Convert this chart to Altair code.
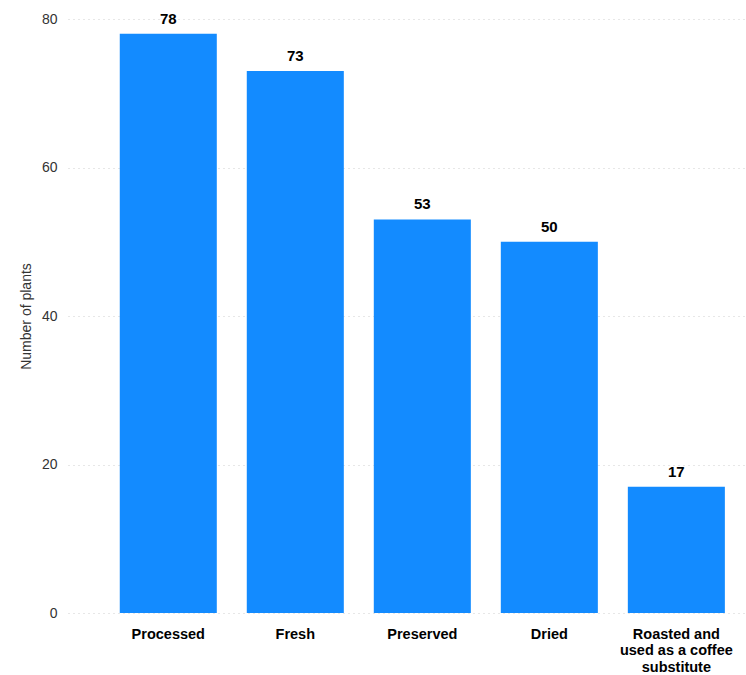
import altair as alt
import pandas as pd

# Ways the plants are used, and how many plants fall in each group
uses = ["Processed", "Fresh", "Preserved", "Dried", "Roasted and used as a coffee substitute"]
counts = [78, 73, 53, 50, 17]
y_ticks = [0, 20, 40, 60, 80]

df = pd.DataFrame({"use": uses, "plants": counts})

label_expr = (
    "datum.value == 'Roasted and used as a coffee substitute' "
    "? ['Roasted and', 'used as a coffee', 'substitute'] : datum.label"
)

x = alt.X(
    "use:N",
    sort=uses,
    title=None,
    scale=alt.Scale(paddingInner=0.236, paddingOuter=0.283, align=0.72),
    axis=alt.Axis(
        labelAngle=0,
        labelFontSize=14.5,
        labelFontWeight="bold",
        labelColor="#000000",
        labelPadding=14,
        labelLineHeight=16.5,
        labelExpr=label_expr,
        ticks=False,
        domain=False,
    ),
)

y = alt.Y(
    "plants:Q",
    title="Number of plants",
    scale=alt.Scale(domain=[0, 80], nice=False),
    axis=alt.Axis(
        values=y_ticks,
        labelFontSize=14,
        labelColor="#333333",
        labelPadding=11,
        titleFontSize=14,
        titleFontWeight="normal",
        titleColor="#333333",
        titlePadding=8,
        ticks=False,
        domain=False,
        gridColor="#cfcfcf",
        gridDash=[1, 4],
        gridWidth=1,
    ),
)

bars = alt.Chart(df).mark_bar(color="#138bff").encode(x=x, y=y)

values = alt.Chart(df).mark_text(
    baseline="bottom", dy=-7, fontSize=15, fontWeight="bold", color="#000000"
).encode(x=x, y=y, text="plants:Q")

chart = (
    (bars + values)
    .properties(
        width=677,
        height=594,
        autosize=alt.AutoSizeParams(type="none"),
        padding={"left": 68, "top": 19, "right": 1, "bottom": 62},
    )
    .configure(font="Liberation Sans")
    .configure_view(stroke=None)
)

chart.save("out.html", embed_options={"renderer": "svg", "actions": False})
